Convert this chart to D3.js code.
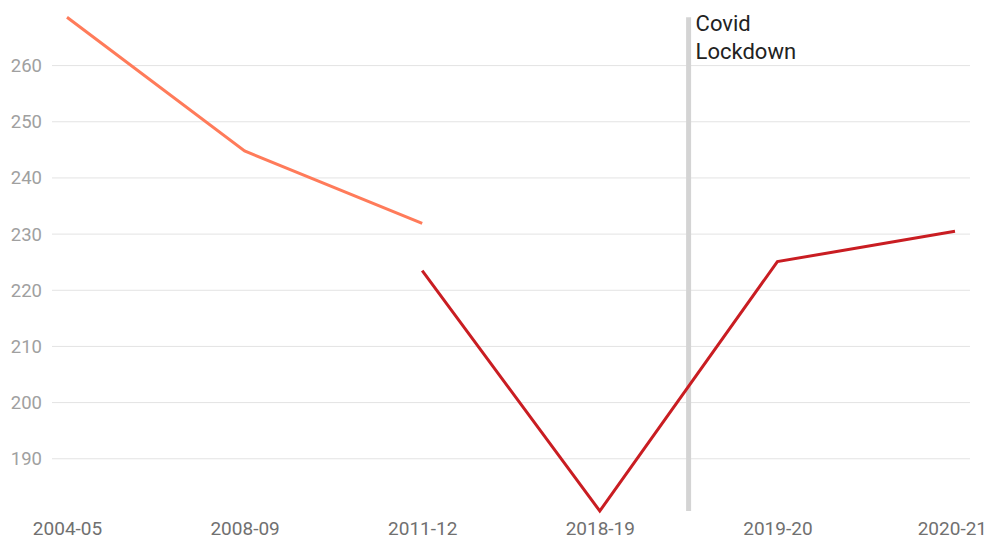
<!DOCTYPE html>
<html>
<head>
<meta charset="utf-8">
<script src="https://cdn.jsdelivr.net/npm/d3@7"></script>
<style>
  html, body { margin: 0; padding: 0; background: #fff; }
  svg { display: block; font-family: Roboto, "Noto Sans", sans-serif; }
</style>
</head>
<body>
<svg id="chart" width="988" height="540"></svg>
<script>
// Academic years along the x axis
const years = ["2004-05", "2008-09", "2011-12", "2018-19", "2019-20", "2020-21"];
// Earlier survey series (2004-05 to 2011-12)
const earlierYears = ["2004-05", "2008-09", "2011-12"];
const earlierValues = [268.6, 244.8, 231.9];
// Later survey series (2011-12 to 2020-21)
const laterYears = ["2011-12", "2018-19", "2019-20", "2020-21"];
const laterValues = [223.5, 180.7, 225.1, 230.5];
// Y axis ticks
const yTicks = [190, 200, 210, 220, 230, 240, 250, 260];
// Annotation
const lockdownLabel = ["Covid", "Lockdown"];

const W = 988;
const svg = d3.select("#chart");

const x = d3.scalePoint().domain(years).range([67, 955]);
const allValues = earlierValues.concat(laterValues);
const y = d3.scaleLinear()
  .domain([d3.min(allValues), d3.max(allValues)])
  .range([511, 17.3]);

// Horizontal gridlines
svg.append("g")
  .selectAll("line")
  .data(yTicks)
  .join("line")
  .attr("x1", 52).attr("x2", 970)
  .attr("y1", d => y(d)).attr("y2", d => y(d))
  .attr("stroke", "#e3e3e3")
  .attr("stroke-width", 1);

// Y axis labels
const yAxis = d3.axisLeft(y).tickValues(yTicks).tickSize(0).tickPadding(0);
svg.append("g")
  .attr("transform", "translate(42,0)")
  .call(yAxis)
  .call(g => g.select(".domain").remove())
  .call(g => g.selectAll("text")
    .attr("font-family", "Roboto, sans-serif")
    .attr("font-size", 18.5)
    .attr("fill", "#a0a0a0"));

// X axis labels; the last one is kept inside the right edge
const xAxis = d3.axisBottom(x).tickSize(0).tickPadding(0);
svg.append("g")
  .attr("transform", "translate(0,521.5)")
  .call(xAxis)
  .call(g => g.select(".domain").remove())
  .call(g => g.selectAll("text")
    .attr("font-family", "Roboto, sans-serif")
    .attr("font-size", 19)
    .attr("fill", "#707070"))
  .call(g => g.selectAll("text")
    .filter(d => d === years[years.length - 1])
    .attr("text-anchor", "end")
    .attr("x", W - 1.5 - x(years[years.length - 1])));

// Covid lockdown marker, halfway between 2018-19 and 2019-20
const lockX = (x("2018-19") + x("2019-20")) / 2;
svg.append("line")
  .attr("x1", lockX).attr("x2", lockX)
  .attr("y1", y.range()[1]).attr("y2", y.range()[0])
  .attr("stroke", "#d4d4d4")
  .attr("stroke-width", 5);

svg.append("text")
  .attr("x", lockX + 7)
  .attr("y", 31)
  .attr("font-size", 22)
  .attr("fill", "#222")
  .selectAll("tspan")
  .data(lockdownLabel)
  .join("tspan")
  .attr("x", lockX + 7)
  .attr("dy", (d, i) => i === 0 ? 0 : 28)
  .text(d => d);

const line = d3.line()
  .x(d => x(d[0]))
  .y(d => y(d[1]));

svg.append("path")
  .datum(earlierYears.map((d, i) => [d, earlierValues[i]]))
  .attr("d", line)
  .attr("fill", "none")
  .attr("stroke", "#ff7b5a")
  .attr("stroke-width", 3);

svg.append("path")
  .datum(laterYears.map((d, i) => [d, laterValues[i]]))
  .attr("d", line)
  .attr("fill", "none")
  .attr("stroke", "#c91d22")
  .attr("stroke-width", 3);
</script>
</body>
</html>
